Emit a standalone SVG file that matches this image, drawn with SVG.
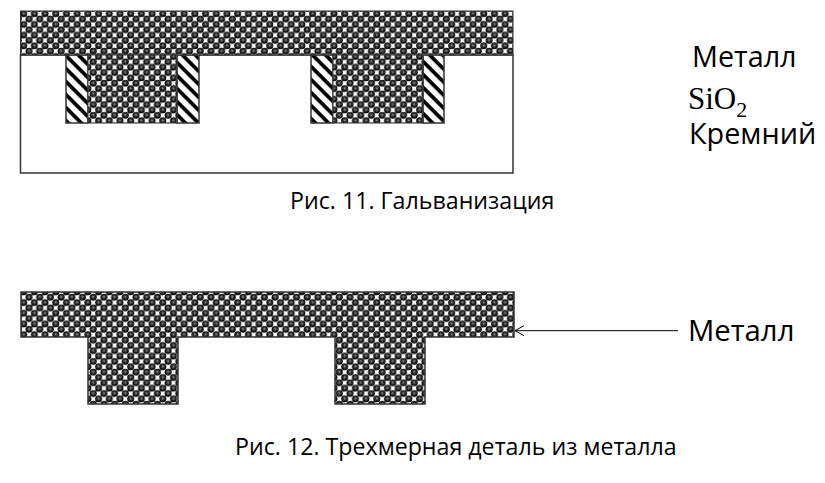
<svg xmlns="http://www.w3.org/2000/svg" width="825" height="483" viewBox="0 0 825 483">
<style>
text{font-family:"Open Sans","Noto Sans",sans-serif;fill:#000}
.cap{font-size:23.2px}
.lab{font-size:28.8px}
.out{stroke:#333;stroke-width:1.5}
.metal{fill:url(#dots)}
.ox{fill:url(#hatch)}
</style>
<defs>
<radialGradient id="ball" cx="0.5" cy="0.45" r="0.55">
<stop offset="0" stop-color="#aaa"/><stop offset="0.3" stop-color="#444"/><stop offset="0.7" stop-color="#111"/><stop offset="1" stop-color="#000"/>
</radialGradient>
<pattern id="dots" width="10.7" height="10.7" patternUnits="userSpaceOnUse" x="21" y="11">
<rect width="10.7" height="10.7" fill="#fff"/>
<circle cx="2.7" cy="2.7" r="3.5" fill="url(#ball)"/>
<circle cx="8" cy="8" r="3.5" fill="url(#ball)"/>
<circle cx="-2.700" cy="8" r="3.5" fill="url(#ball)"/>
<circle cx="8" cy="-2.700" r="3.5" fill="url(#ball)"/>
<circle cx="13.400" cy="2.700" r="3.5" fill="url(#ball)"/>
<circle cx="2.700" cy="13.400" r="3.5" fill="url(#ball)"/>
</pattern>
<pattern id="hatch" width="9.2" height="9.2" patternUnits="userSpaceOnUse" patternTransform="rotate(45)">
<rect width="9.2" height="9.2" fill="#fff"/>
<rect width="9.2" height="3.8" fill="#000"/>
</pattern>
<marker id="open" markerWidth="12" markerHeight="12" refX="10" refY="6" orient="auto" markerUnits="userSpaceOnUse">
<path d="M1 1 L10 6 L1 11" fill="none" stroke="#000" stroke-width="1"/>
</marker>
</defs>
<g id="fig11">
<g id="silicon"><rect class="out" x="20.5" y="55" width="492.5" height="118" fill="#fff"/></g>
<g id="oxide">
<rect class="ox out" x="66" y="55" width="22" height="68"/>
<rect class="ox out" x="177" y="55" width="22" height="68"/>
<rect class="ox out" x="311" y="55" width="22" height="68"/>
<rect class="ox out" x="423" y="55" width="21" height="68"/>
</g>
<g id="metal-top">
<rect class="metal" x="20.500" y="11" width="492.500" height="44" stroke="#333" stroke-width="1"/>
<rect class="metal" x="88" y="55" width="89" height="68" stroke="#333" stroke-width="1"/>
<rect class="metal" x="333" y="55" width="90" height="68" stroke="#333" stroke-width="1"/>
</g>
</g>
<g id="fig12-part">
<path class="metal out" d="M21 292H514V337H425V404H335V337H178V404H88V337H21Z"/>
</g>
<g id="connectors">
<line x1="678" y1="330.700" x2="515" y2="330.700" stroke="#000" stroke-width="1" marker-end="url(#open)"/>
</g>
<g id="labels">
<text class="lab" x="692" y="67">Металл</text>
<text x="688" y="109" style="font-family:'Liberation Serif',serif;font-size:31px">SiO<tspan style="font-family:'Liberation Serif',serif;font-size:22px" dy="8">2</tspan></text>
<text class="lab" x="689" y="144">Кремний</text>
<text class="cap" x="290" y="209">Рис. 11. Гальванизация</text>
<text class="lab" x="688" y="341" style="font-size:29.300px">Металл</text>
<text class="cap" x="235" y="455">Рис. 12. Трехмерная деталь из металла</text>
</g>
</svg>
